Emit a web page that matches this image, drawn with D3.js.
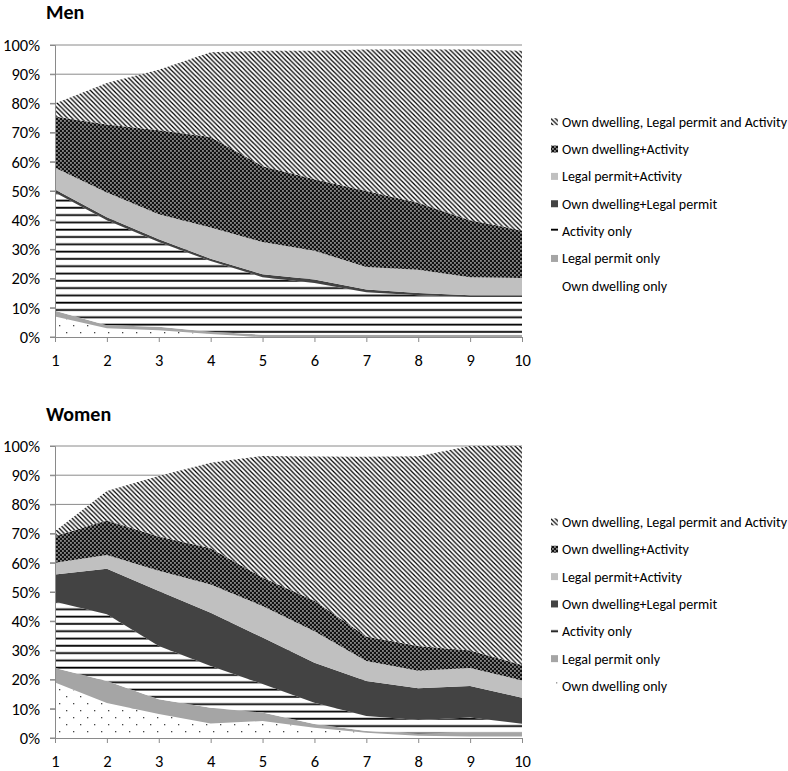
<!DOCTYPE html>
<html>
<head>
<meta charset="utf-8">
<script src="https://cdn.jsdelivr.net/npm/d3@7"></script>
<style>
  html, body { margin: 0; padding: 0; background: #fff; }
  svg { display: block; }
  text { font-family: Carlito, Lato, "Open Sans", sans-serif; fill: #000; }
</style>
</head>
<body>
<svg id="chart" width="788" height="771"></svg>
<script>
// ---- Data (percent of persons, by year 1..10) ----
const categories = [1, 2, 3, 4, 5, 6, 7, 8, 9, 10];
const seriesNames = [
  "Own dwelling only",
  "Legal permit only",
  "Activity only",
  "Own dwelling+Legal permit",
  "Legal permit+Activity",
  "Own dwelling+Activity",
  "Own dwelling, Legal permit and Activity"
];
const yTickValues = [0, 10, 20, 30, 40, 50, 60, 70, 80, 90, 100];
const panelTitles = ["Men", "Women"];

// Men
const menOwnDwellingOnly   = [7, 3, 2.3, 1, 0, 0, 0, 0, 0, 0];
const menLegalPermitOnly   = [2, 1, 1.2, 0.8, 0.8, 0.8, 0.8, 0.8, 0.8, 0.8];
const menActivityOnly      = [40.5, 36, 29, 24.2, 19.7, 17.7, 14.5, 13.5, 12.9, 12.9];
const menOwnDwellingPermit = [1, 1, 1, 0.8, 1, 1.2, 1, 0.8, 0.6, 0.6];
const menPermitActivity    = [7.5, 8.5, 8.5, 10.7, 11, 9.8, 7.7, 7.9, 6.2, 5.9];
const menDwellingActivity  = [17.5, 23.3, 28.8, 31, 26, 24.5, 26, 23, 19.5, 16.3];
const menAllThree          = [4.5, 14.2, 20.7, 29, 39.5, 44, 48.5, 52.5, 58.5, 61.5];

// Women
const womenOwnDwellingOnly   = [19, 12, 8.2, 5, 5.8, 3.5, 1.8, 0.8, 0.5, 0.5];
const womenLegalPermitOnly   = [5, 7.5, 5.1, 5.4, 2.9, 1.3, 0.6, 0.7, 1.5, 1.5];
const womenActivityOnly      = [22.7, 22.9, 18.2, 14.3, 9.8, 7.3, 5.1, 4.7, 5, 2.9];
const womenOwnDwellingPermit = [9.3, 15.6, 18.8, 18.2, 15.9, 13.7, 12, 10.8, 10.8, 8.9];
const womenPermitActivity    = [4, 4.7, 7, 9.7, 10.8, 10.8, 6.9, 6, 6.2, 5.9];
const womenDwellingActivity  = [9.2, 11.8, 11.7, 12.4, 9.8, 10.4, 8.4, 8.5, 6, 5.3];
const womenAllThree          = [1.6, 10.1, 20.7, 29.3, 41.6, 49.4, 61.5, 65, 70, 75];

const menSeries = [menOwnDwellingOnly, menLegalPermitOnly, menActivityOnly, menOwnDwellingPermit,
                   menPermitActivity, menDwellingActivity, menAllThree];
const womenSeries = [womenOwnDwellingOnly, womenLegalPermitOnly, womenActivityOnly, womenOwnDwellingPermit,
                     womenPermitActivity, womenDwellingActivity, womenAllThree];

// ---- Drawing ----
const svg = d3.select("#chart");
const defs = svg.append("defs");
const FONT = "Carlito, Lato, 'Open Sans', sans-serif";

function pat(id, w, h) {
  return defs.append("pattern").attr("id", id).attr("patternUnits", "userSpaceOnUse")
    .attr("width", w).attr("height", h);
}
// diagonal (top layer)
let p = pat("pDiag", 4.6, 4.6);
p.append("rect").attr("width", 4.6).attr("height", 4.6).attr("fill", "#fff");
p.append("path").attr("d", "M-1,-1L5.6,5.6M-1,3.6L1,5.6M3.6,-1L5.6,1")
  .attr("stroke", "#000").attr("stroke-width", 1.25);
// checker (own dwelling + activity)
p = pat("pCheck", 4, 4);
p.append("rect").attr("width", 4).attr("height", 4).attr("fill", "#111");
p.append("rect").attr("x", 0.3).attr("y", 0.3).attr("width", 1.3).attr("height", 1.3).attr("fill", "#fff");
p.append("rect").attr("x", 2.3).attr("y", 2.3).attr("width", 1.3).attr("height", 1.3).attr("fill", "#fff");
// horizontal lines (activity only)
p = pat("pHLines", 10, 7.3);
p.append("rect").attr("width", 10).attr("height", 7.3).attr("fill", "#fff");
p.append("rect").attr("y", 2.5).attr("width", 10).attr("height", 1.8).attr("fill", "#000");
// dots (own dwelling only)
p = pat("pDots", 14, 14);
p.append("rect").attr("width", 14).attr("height", 14).attr("fill", "#fff");
p.append("rect").attr("x", 3).attr("y", 3).attr("width", 1.3).attr("height", 1.3).attr("fill", "#444");
p.append("rect").attr("x", 10).attr("y", 10).attr("width", 1.3).attr("height", 1.3).attr("fill", "#444");

const fills = ["url(#pDots)", "#a5a5a5", "url(#pHLines)", "#434343", "#c0c0c0", "url(#pCheck)", "url(#pDiag)"];

const panels = [
  { title: panelTitles[0], series: menSeries, yBase: 337, yTop: 45, titleY: 18.5, legendY: 121.7 },
  { title: panelTitles[1], series: womenSeries, yBase: 738, yTop: 446, titleY: 420.7, legendY: 521.9 }
];

const x = d3.scaleLinear().domain([1, 10]).range([55, 522]);
const gridColor = "#8a8a8a";

panels.forEach(panel => {
  const g = svg.append("g");
  const y = d3.scaleLinear().domain([0, 100]).range([panel.yBase, panel.yTop]);

  // title
  g.append("text").attr("x", 46).attr("y", panel.titleY)
    .attr("font-size", 20).attr("font-weight", "bold").text(panel.title);

  // gridlines
  const grid = g.append("g");
  grid.selectAll("line").data(yTickValues).join("line")
    .attr("x1", x(1) - 5).attr("x2", x(10))
    .attr("y1", d => y(d)).attr("y2", d => y(d))
    .attr("stroke", gridColor).attr("stroke-width", 1);

  // stacked areas
  const rows = categories.map((c, i) => {
    const r = { cat: c };
    seriesNames.forEach((n, k) => { r[n] = panel.series[k][i]; });
    return r;
  });
  const stack = d3.stack().keys(seriesNames)(rows);
  const area = d3.area()
    .x(d => x(d.data.cat))
    .y0(d => y(d[0]))
    .y1(d => y(d[1]));
  g.append("g").selectAll("path").data(stack).join("path")
    .attr("d", area)
    .attr("fill", (d, i) => fills[i]);

  // axes
  const yAxis = d3.axisLeft(y).tickValues(yTickValues).tickSize(5).tickFormat(d => d + "%");
  const ya = g.append("g").attr("transform", `translate(${x(1)},0)`).call(yAxis);
  ya.select(".domain").attr("stroke", gridColor);
  ya.selectAll(".tick line").attr("stroke", gridColor);
  ya.selectAll(".tick text").attr("x", -15).attr("font-size", 16.5)
    .style("font-family", FONT).attr("fill", "#000");

  const xAxis = d3.axisBottom(x).tickValues(categories).tickSize(5).tickSizeOuter(0).tickFormat(d3.format("d"));
  const xa = g.append("g").attr("transform", `translate(0,${panel.yBase})`).call(xAxis);
  xa.select(".domain").attr("stroke", gridColor);
  xa.selectAll(".tick line").attr("stroke", gridColor);
  xa.selectAll(".tick text").attr("y", 17).attr("font-size", 16.5)
    .style("font-family", FONT).attr("fill", "#000");

  // legend (top-most series first)
  const order = seriesNames.map((n, i) => i).reverse();
  const lg = g.append("g");
  order.forEach((k, j) => {
    const cy = panel.legendY + j * 27.35;
    lg.append("rect").attr("x", 551).attr("y", cy - 3.5).attr("width", 7).attr("height", 7)
      .attr("fill", fills[k]);
    lg.append("text").attr("x", 562).attr("y", cy).attr("dy", "0.35em")
      .attr("font-size", 14).text(seriesNames[k]);
  });
});
</script>
</body>
</html>
